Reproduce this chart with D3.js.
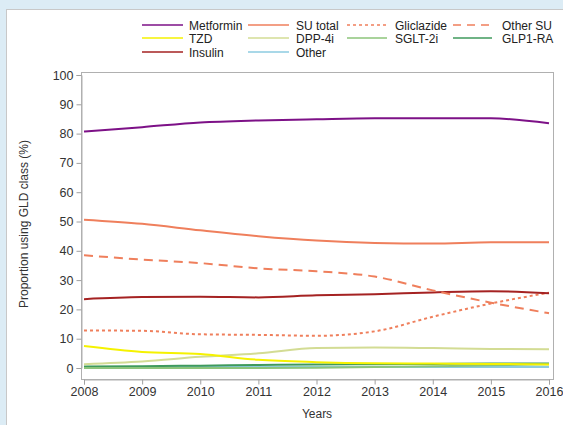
<!DOCTYPE html>
<html><head><meta charset="utf-8">
<script src="https://cdn.jsdelivr.net/npm/d3@7"></script>
<style>
body{margin:0;background:#dcecf5;}
svg{display:block;font-family:"Liberation Sans",Arial,sans-serif;}
</style></head>
<body>
<svg id="c" width="563" height="425"></svg>
<script>
const years = [2008,2009,2010,2011,2012,2013,2014,2015,2016];
const metformin = [80.7,82.2,83.8,84.5,84.9,85.2,85.2,85.2,83.5];
const suTotal   = [50.6,49.2,47.0,45.0,43.5,42.7,42.5,42.9,42.9];
const gliclazide= [12.8,12.7,11.5,11.3,11.0,12.5,17.5,22.0,25.7];
const otherSU   = [38.5,37.0,35.8,34.0,33.0,31.2,26.5,22.3,18.7];
const tzd       = [7.5,5.5,4.8,2.8,2.0,1.6,1.5,1.4,1.2];
const dpp4i     = [1.3,2.2,3.8,5.0,6.8,7.0,6.8,6.5,6.4];
const sglt2i    = [0,0,0,0,0.1,0.3,0.6,0.9,1.3];
const glp1ra    = [0.5,0.6,0.8,1.0,1.2,1.3,1.4,1.5,1.5];
const insulin   = [23.5,24.2,24.3,24.1,24.8,25.2,25.8,26.2,25.5];
const other     = [0.3,0.3,0.3,0.3,0.3,0.3,0.3,0.3,0.3];
const yTicks = [0,10,20,30,40,50,60,70,80,90,100];

const series = [
  {name:"Metformin", values:metformin, color:"#7d1187", dash:null},
  {name:"SU total", values:suTotal, color:"#ef7f5c", dash:null},
  {name:"Gliclazide", values:gliclazide, color:"#ef7f5c", dash:"3,3"},
  {name:"Other SU", values:otherSU, color:"#ef7f5c", dash:"9,6"},
  {name:"TZD", values:tzd, color:"#f5f200", dash:null},
  {name:"DPP-4i", values:dpp4i, color:"#d3dc94", dash:null},
  {name:"SGLT-2i", values:sglt2i, color:"#8cc47a", dash:null},
  {name:"GLP1-RA", values:glp1ra, color:"#3f9a5c", dash:null},
  {name:"Insulin", values:insulin, color:"#a52222", dash:null},
  {name:"Other", values:other, color:"#8ccbe0", dash:null}
];

const svg = d3.select("#c");
// panel
svg.append("rect").attr("x",6.5).attr("y",9.5).attr("width",600).attr("height",500)
  .attr("fill","#fff").attr("stroke","#c8c8c8");

const x = d3.scaleLinear().domain([2008,2016]).range([84,549]);
const y = d3.scaleLinear().domain([0,100]).range([368,75]);

// plot frame
svg.append("rect").attr("x",81.5).attr("y",72.5).attr("width",472).attr("height",307)
  .attr("fill","none").attr("stroke","#b0b0b0");

const ya = svg.append("g").attr("transform","translate(81.5,0)")
  .call(d3.axisLeft(y).tickValues(yTicks).tickSize(5).tickPadding(3));
const xa = svg.append("g").attr("transform","translate(0,379.5)")
  .call(d3.axisBottom(x).tickValues(years).tickFormat(d3.format("d")).tickSize(5).tickPadding(3));
[ya,xa].forEach(a=>{
  a.select(".domain").attr("stroke","#b0b0b0");
  a.selectAll(".tick line").attr("stroke","#a0a0a0");
  a.selectAll(".tick text").attr("fill","#333").style("font-size","12.5px");
});

const line = d3.line().x((d,i)=>x(years[i])).y(d=>y(d)).curve(d3.curveMonotoneX);
const order = [9,7,6,5,4,2,8,3,1,0];
order.forEach(k=>{
  const s = series[k];
  svg.append("path").attr("d",line(s.values)).attr("fill","none")
    .attr("stroke",s.color).attr("stroke-width",2)
    .attr("stroke-dasharray",s.dash);
});

// axis titles
svg.append("text").attr("transform","translate(28,224) rotate(-90)")
  .attr("text-anchor","middle").attr("fill","#333").style("font-size","12px")
  .text("Proportion using GLD class (%)");
svg.append("text").attr("x",317).attr("y",418).attr("text-anchor","middle")
  .attr("fill","#333").style("font-size","12px").text("Years");

// legend
const colX = [[142,183,189],[248,289,296],[347,387,395],[453,492,502]];
const rowY = [25,38,52];
series.forEach((s,i)=>{
  const r = Math.floor(i/4), c = i%4;
  const g = svg.append("g");
  g.append("line").attr("x1",colX[c][0]).attr("x2",colX[c][1])
    .attr("y1",rowY[r]).attr("y2",rowY[r]).attr("stroke",s.color)
    .attr("stroke-width",1.3).attr("stroke-dasharray",s.dash ? (s.dash==="3,3"?"3,3":"8,6") : null);
  g.append("text").attr("x",colX[c][2]).attr("y",rowY[r]+4.5)
    .attr("fill","#222").style("font-size","12px").text(s.name);
});
</script>
</body></html>
